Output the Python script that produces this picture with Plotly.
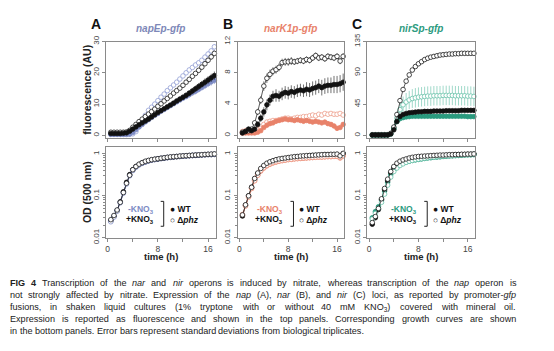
import re
import plotly.graph_objects as go

W, H = 554, 351

# ---------------- data ----------------
T = [0.5, 1.0, 1.5, 2.0, 2.5, 3.0, 3.5, 4.0, 4.5, 5.0, 5.5, 6.0, 6.5, 7.0, 7.5, 8.0, 8.5,
     9.0, 9.5, 10.0, 10.5, 11.0, 11.5, 12.0, 12.5, 13.0, 13.5, 14.0, 14.5, 15.0, 15.5, 16.0, 16.5, 17.0]

# Panel A  napEp-gfp  fluorescence
A_wt_minus = [0.3, 0.3, 0.3, 0.3, 0.3, 0.3, 0.4, 0.9, 1.8, 2.7, 3.5, 4.3, 5.0, 5.7, 6.4, 7.0, 7.7,
              8.3, 8.9, 9.5, 10.1, 10.7, 11.3, 11.9, 12.4, 13.0, 13.6, 14.1, 14.7, 15.3, 15.9, 16.5, 17.1, 17.6]
A_wt_plus = [0.6, 0.6, 0.6, 0.6, 0.7, 0.8, 1.3, 2.0, 2.7, 3.4, 4.0, 4.6, 5.2, 5.9, 6.6, 7.3, 7.9,
             8.5, 9.1, 9.7, 10.3, 11.0, 11.6, 12.2, 12.8, 13.5, 14.2, 14.9, 15.6, 16.3, 17.0, 17.7, 18.4, 19.1]
A_phz_minus = [0.4, 0.4, 0.4, 0.4, 0.4, 0.4, 0.4, 0.5, 1.2, 2.8, 4.6, 6.4, 8.0, 9.0, 10.0, 11.1, 12.2,
               13.2, 14.3, 15.2, 16.1, 17.0, 18.0, 19.0, 20.0, 20.9, 21.7, 22.5, 23.2, 24.0, 25.0, 26.0, 27.0, 28.3]
A_phz_plus = [1.0, 1.0, 1.0, 1.0, 1.0, 1.1, 1.6, 2.6, 3.5, 4.4, 5.2, 6.0, 6.8, 7.6, 8.4, 9.3, 10.1,
              11.0, 11.8, 12.6, 13.5, 14.3, 15.1, 16.0, 17.0, 17.9, 18.9, 19.8, 20.8, 21.8, 22.9, 24.0, 25.1, 26.2]
A_wt_minus_err = [0.1, 0.1, 0.1, 0.1, 0.1, 0.1, 0.1, 0.2, 0.3, 0.3, 0.4, 0.4, 0.4, 0.5, 0.5, 0.5, 0.6,
                  0.6, 0.6, 0.7, 0.7, 0.7, 0.8, 0.8, 0.8, 0.9, 0.9, 1.0, 1.0, 1.0, 1.1, 1.1, 1.2, 1.2]
A_wt_plus_err = [0.1, 0.1, 0.1, 0.1, 0.1, 0.1, 0.2, 0.2, 0.3, 0.3, 0.3, 0.4, 0.4, 0.4, 0.5, 0.5, 0.5,
                 0.6, 0.6, 0.6, 0.7, 0.7, 0.8, 0.8, 0.9, 0.9, 1.0, 1.0, 1.1, 1.1, 1.2, 1.2, 1.3, 1.3]
A_phz_minus_err = [0.1, 0.1, 0.1, 0.1, 0.1, 0.1, 0.1, 0.1, 0.2, 0.2, 0.3, 0.3, 0.3, 0.3, 0.4, 0.4, 0.4,
                   0.4, 0.5, 0.5, 0.5, 0.5, 0.5, 0.6, 0.6, 0.6, 0.6, 0.7, 0.7, 0.7, 0.8, 0.8, 0.8, 0.9]
A_phz_plus_err = [0.1, 0.1, 0.1, 0.1, 0.1, 0.1, 0.1, 0.2, 0.2, 0.2, 0.3, 0.3, 0.3, 0.3, 0.4, 0.4, 0.4,
                  0.4, 0.5, 0.5, 0.5, 0.5, 0.6, 0.6, 0.6, 0.6, 0.7, 0.7, 0.7, 0.8, 0.8, 0.8, 0.9, 0.9]

# Panel B  narK1p-gfp  fluorescence
B_wt_minus = [0.3, 0.3, 0.3, 0.3, 0.3, 0.4, 0.6, 1.0, 1.3, 1.5, 1.6, 1.8, 1.9, 2.0, 2.1, 2.0, 2.0,
              1.9, 2.0, 1.9, 1.8, 1.9, 1.8, 1.7, 1.8, 1.7, 1.6, 1.7, 1.5, 1.4, 1.2, 0.9, 1.0, 1.4]
B_wt_plus = [0.3, 0.5, 0.8, 0.6, 0.8, 1.4, 2.2, 3.0, 3.9, 4.5, 5.0, 5.1, 5.0, 5.3, 5.5, 5.4, 5.6,
             5.5, 5.7, 5.8, 5.7, 5.9, 5.8, 6.0, 6.1, 6.3, 6.1, 6.3, 6.4, 6.4, 6.5, 6.5, 6.6, 6.8]
B_phz_minus = [0.5, 0.6, 0.5, 0.6, 0.6, 0.7, 0.9, 1.4, 1.7, 1.8, 1.9, 1.9, 2.0, 2.1, 2.2, 2.2, 2.1,
               2.2, 2.3, 2.3, 2.4, 2.4, 2.5, 2.6, 2.5, 2.7, 2.6, 2.8, 2.7, 2.8, 2.7, 2.7, 2.8, 2.6]
B_phz_plus = [0.4, 0.5, 0.6, 0.8, 1.6, 3.0, 4.5, 6.3, 7.3, 7.8, 8.2, 8.4, 8.7, 9.3, 9.4, 9.4, 9.5,
              9.4, 9.5, 9.6, 9.5, 9.7, 9.6, 9.9, 10.2, 9.9, 10.0, 9.8, 10.1, 10.0, 9.9, 10.1, 9.5, 10.1]
B_wt_minus_err = [0.1, 0.1, 0.1, 0.1, 0.1, 0.1, 0.2, 0.2, 0.3, 0.3, 0.3, 0.3, 0.3, 0.3, 0.3, 0.3, 0.3,
                  0.3, 0.3, 0.3, 0.3, 0.3, 0.3, 0.3, 0.3, 0.3, 0.3, 0.3, 0.3, 0.3, 0.3, 0.3, 0.3, 0.3]
B_wt_plus_err = [0.1, 0.2, 0.3, 0.2, 0.3, 0.4, 0.5, 0.6, 0.7, 0.7, 0.7, 0.8, 0.7, 0.8, 0.8, 0.8, 0.8,
                 0.8, 0.8, 0.8, 0.8, 0.9, 0.9, 0.9, 0.9, 0.9, 1.0, 1.0, 1.0, 1.0, 1.1, 1.1, 1.1, 1.1]
B_phz_minus_err = [0.1, 0.1, 0.1, 0.1, 0.1, 0.1, 0.1, 0.2, 0.2, 0.2, 0.2, 0.2, 0.2, 0.2, 0.2, 0.2, 0.2,
                   0.2, 0.2, 0.2, 0.2, 0.2, 0.2, 0.2, 0.2, 0.2, 0.2, 0.2, 0.2, 0.2, 0.2, 0.2, 0.2, 0.2]
B_phz_plus_err = [0.1, 0.1, 0.2, 0.2, 0.3, 0.4, 0.5, 0.6, 0.6, 0.6, 0.5, 0.5, 0.5, 0.5, 0.5, 0.5, 0.5,
                  0.4, 0.4, 0.4, 0.4, 0.4, 0.4, 0.4, 0.4, 0.4, 0.4, 0.4, 0.4, 0.4, 0.4, 0.4, 0.4, 0.4]

# Panel C  nirSp-gfp  fluorescence
C_wt_minus = [0.5, 0.5, 0.5, 0.5, 0.5, 0.6, 2.0, 10.0, 20.0, 24.0, 25.5, 26.5, 27.0, 27.5, 27.5, 27.5, 27.5,
              27.5, 27.5, 27.5, 27.5, 27.5, 27.5, 27.5, 27.5, 27.5, 27.5, 27.5, 27.5, 27.5, 27.5, 27.0, 27.0, 27.0]
C_wt_plus = [0.5, 0.5, 0.5, 0.5, 0.5, 0.6, 2.0, 8.0, 20.0, 27.0, 30.0, 31.5, 32.5, 33.0, 33.5, 34.0, 34.0,
             34.5, 34.5, 34.5, 35.0, 35.0, 35.0, 35.0, 35.5, 35.5, 35.5, 35.5, 35.5, 36.0, 36.0, 36.0, 36.0, 36.0]
C_phz_minus = [0.5, 0.5, 0.5, 0.5, 0.5, 0.6, 2.5, 10.0, 25.0, 37.0, 44.0, 48.0, 51.0, 53.0, 54.0, 55.0, 55.5,
               56.0, 56.5, 56.5, 57.0, 57.0, 57.0, 57.5, 57.5, 57.5, 57.5, 57.0, 57.0, 57.0, 57.0, 56.5, 56.5, 56.0]
C_phz_plus = [1.0, 1.0, 1.0, 1.0, 1.0, 1.0, 3.0, 12.0, 30.0, 50.0, 66.0, 78.0, 87.0, 94.0, 99.0, 103.0, 106.0,
              109.0, 111.0, 112.5, 113.5, 114.5, 115.5, 116.0, 116.5, 117.0, 117.0, 117.5, 117.5, 118.0, 118.0, 118.0, 118.0, 118.0]
C_wt_minus_err = [0.3, 0.3, 0.3, 0.3, 0.3, 0.3, 1.0, 2.0, 3.0, 3.0, 3.0, 3.0, 3.0, 3.0, 3.0, 3.0, 3.0,
                  3.0, 3.0, 3.0, 3.0, 3.0, 3.0, 3.0, 3.0, 3.0, 3.0, 3.0, 3.0, 3.0, 3.0, 3.0, 3.0, 3.0]
C_wt_plus_err = [0.3, 0.3, 0.3, 0.3, 0.3, 0.3, 1.0, 1.5, 2.0, 2.0, 2.0, 2.0, 2.0, 2.0, 2.0, 2.0, 2.0,
                 2.0, 2.0, 2.0, 2.0, 2.0, 2.0, 2.0, 2.0, 2.0, 2.0, 2.0, 2.0, 2.0, 2.0, 2.0, 2.0, 2.0]
C_phz_minus_err = [0.3, 0.3, 0.3, 0.3, 0.3, 0.3, 2.0, 5.0, 9.0, 11.0, 12.0, 13.0, 13.0, 13.5, 14.0, 14.0, 14.0,
                   14.0, 14.0, 14.0, 14.0, 14.0, 14.0, 14.0, 14.0, 14.0, 14.0, 14.0, 14.0, 14.0, 14.0, 14.0, 14.0, 14.0]
C_phz_plus_err = [0.3, 0.3, 0.3, 0.3, 0.3, 0.3, 1.0, 2.0, 3.0, 3.0, 3.0, 3.0, 3.0, 3.0, 3.0, 3.0, 3.0,
                  3.0, 3.0, 3.0, 3.0, 3.0, 3.0, 3.0, 3.0, 3.0, 3.0, 3.0, 3.0, 3.0, 3.0, 3.0, 3.0, 3.0]

# OD (500 nm) growth curves
A_od_wt_minus = [0.026, 0.033, 0.045, 0.07, 0.12, 0.2, 0.31, 0.41, 0.49, 0.55, 0.6, 0.64, 0.68, 0.71, 0.73, 0.75, 0.77,
                 0.79, 0.81, 0.83, 0.84, 0.86, 0.87, 0.88, 0.89, 0.9, 0.91, 0.92, 0.93, 0.94, 0.95, 0.96, 0.96, 0.97]
A_od_wt_plus = [0.025, 0.032, 0.044, 0.072, 0.125, 0.21, 0.32, 0.42, 0.5, 0.56, 0.61, 0.65, 0.69, 0.72, 0.74, 0.76, 0.78,
                0.8, 0.82, 0.83, 0.85, 0.86, 0.87, 0.89, 0.9, 0.91, 0.92, 0.93, 0.94, 0.95, 0.96, 0.97, 0.97, 0.98]
A_od_phz_minus = [0.024, 0.031, 0.043, 0.068, 0.115, 0.19, 0.3, 0.4, 0.48, 0.55, 0.6, 0.65, 0.69, 0.72, 0.74, 0.77, 0.79,
                  0.81, 0.83, 0.84, 0.86, 0.87, 0.88, 0.9, 0.91, 0.92, 0.93, 0.94, 0.95, 0.96, 0.97, 0.98, 0.98, 0.99]
A_od_phz_plus = [0.027, 0.034, 0.046, 0.07, 0.12, 0.2, 0.31, 0.42, 0.5, 0.57, 0.62, 0.67, 0.7, 0.73, 0.75, 0.77, 0.79,
                 0.81, 0.83, 0.85, 0.86, 0.87, 0.89, 0.9, 0.91, 0.92, 0.93, 0.94, 0.95, 0.96, 0.97, 0.98, 0.99, 1.0]

B_od_wt_minus = [0.034, 0.058, 0.095, 0.15, 0.23, 0.31, 0.39, 0.46, 0.52, 0.57, 0.61, 0.64, 0.67, 0.69, 0.71, 0.73, 0.74,
                 0.76, 0.77, 0.78, 0.79, 0.8, 0.81, 0.82, 0.83, 0.84, 0.84, 0.85, 0.86, 0.86, 0.87, 0.87, 0.8, 0.9]
B_od_wt_plus = [0.033, 0.06, 0.1, 0.16, 0.25, 0.34, 0.43, 0.51, 0.57, 0.62, 0.66, 0.7, 0.73, 0.75, 0.77, 0.79, 0.81,
                0.83, 0.84, 0.86, 0.87, 0.88, 0.9, 0.91, 0.92, 0.93, 0.94, 0.95, 0.95, 0.96, 0.96, 0.97, 0.88, 1.02]
B_od_phz_minus = [0.036, 0.057, 0.093, 0.15, 0.23, 0.31, 0.4, 0.47, 0.53, 0.58, 0.62, 0.65, 0.68, 0.7, 0.72, 0.74, 0.75,
                  0.77, 0.78, 0.79, 0.8, 0.81, 0.82, 0.83, 0.84, 0.85, 0.85, 0.86, 0.87, 0.87, 0.88, 0.88, 0.82, 0.91]
B_od_phz_plus = [0.035, 0.061, 0.1, 0.16, 0.26, 0.35, 0.45, 0.53, 0.6, 0.65, 0.69, 0.73, 0.76, 0.78, 0.8, 0.82, 0.84,
                 0.86, 0.87, 0.89, 0.9, 0.91, 0.92, 0.93, 0.94, 0.95, 0.96, 0.97, 0.97, 0.98, 0.98, 0.99, 0.9, 1.03]

C_od_wt_minus = [0.03, 0.042, 0.055, 0.08, 0.13, 0.21, 0.32, 0.42, 0.49, 0.55, 0.6, 0.64, 0.67, 0.7, 0.72, 0.74, 0.76,
                 0.78, 0.8, 0.81, 0.83, 0.84, 0.85, 0.87, 0.88, 0.89, 0.9, 0.91, 0.92, 0.93, 0.94, 0.95, 0.95, 0.96]
C_od_wt_plus = [0.021, 0.03, 0.047, 0.08, 0.14, 0.23, 0.36, 0.47, 0.55, 0.61, 0.66, 0.7, 0.73, 0.76, 0.78, 0.8, 0.82,
                0.84, 0.85, 0.87, 0.88, 0.89, 0.9, 0.91, 0.92, 0.93, 0.94, 0.95, 0.96, 0.96, 0.97, 0.98, 0.98, 0.99]
C_od_phz_minus = [0.028, 0.038, 0.05, 0.07, 0.11, 0.18, 0.28, 0.38, 0.46, 0.53, 0.58, 0.63, 0.67, 0.7, 0.73, 0.75, 0.77,
                  0.79, 0.81, 0.83, 0.84, 0.86, 0.87, 0.88, 0.89, 0.9, 0.91, 0.92, 0.93, 0.94, 0.95, 0.96, 0.97, 0.98]
C_od_phz_plus = [0.023, 0.032, 0.05, 0.085, 0.15, 0.25, 0.38, 0.5, 0.6, 0.67, 0.72, 0.76, 0.8, 0.83, 0.85, 0.87, 0.88,
                 0.89, 0.9, 0.91, 0.92, 0.93, 0.94, 0.94, 0.95, 0.96, 0.96, 0.97, 0.97, 0.98, 0.98, 0.99, 0.99, 1.0]

PANEL_LETTERS = ["A", "B", "C"]
PANEL_TITLES = ["napEp-gfp", "narK1p-gfp", "nirSp-gfp"]
FLUOR_TICKS = [[0, 10, 20, 30], [0, 4, 8, 12], [0, 45, 90, 135]]
FLUOR_RANGES = [[-0.9, 30], [-0.36, 12], [-4.0, 135]]
TIME_TICKS = [0, 8, 16]
TIME_MINOR = [4, 12]
OD_TICKS = [0.01, 0.1, 1]
OD_LABELS = ["0.01", "0.1", "1"]
OD_MINOR = [0.02, 0.03, 0.04, 0.05, 0.06, 0.07, 0.08, 0.09, 0.2, 0.3, 0.4, 0.5, 0.6, 0.7, 0.8, 0.9]

CAPTION = [
    "<b>FIG</b> <b>4</b> Transcription of the <i>nar</i> and <i>nir</i> operons is induced by nitrate, whereas transcription of the <i>nap</i> operon is",
    "not strongly affected by nitrate. Expression of the <i>nap</i> (A), <i>nar</i> (B), and <i>nir</i> (C) loci, as reported by promoter-<i>gfp</i>",
    "fusions, in shaken liquid cultures (1% tryptone with or without 40 mM KNO<sub>3</sub>) covered with mineral oil.",
    "Expression is reported as fluorescence and shown in the top panels. Corresponding growth curves are shown",
    "in the bottom panels. Error bars represent standard deviations from biological triplicates.",
]
CAPTION_JUSTIFY = [True, True, True, True, False]

# ---------------- styling ----------------
COLORS = ["#7d8bc4", "#e8826a", "#2a9a7e"]
OPEN_COLORS = ["#8c9ad2", "#ec9a85", "#62bfa6"]
TITLE_COLORS = ["#7e88b8", "#e8826a", "#2e9b80"]
BLACK = "#111111"
AXC = "#8a8a8a"
FONT = "Liberation Sans, Arial, sans-serif"
CAP_FS = 9.1

# Arial / Liberation Sans advance widths (1/1000 em), used to justify the caption
ARIAL_W = {
    ' ': 278, '!': 278, '"': 355, '#': 556, '$': 556, '%': 889, '&': 667, "'": 191, '(': 333, ')': 333,
    '*': 389, '+': 584, ',': 278, '-': 333, '.': 278, '/': 278, ':': 278, ';': 278, '?': 556,
    '0': 556, '1': 556, '2': 556, '3': 556, '4': 556, '5': 556, '6': 556, '7': 556, '8': 556, '9': 556,
    'A': 667, 'B': 667, 'C': 722, 'D': 722, 'E': 667, 'F': 611, 'G': 778, 'H': 722, 'I': 278, 'J': 500,
    'K': 667, 'L': 556, 'M': 833, 'N': 722, 'O': 778, 'P': 667, 'Q': 778, 'R': 722, 'S': 667, 'T': 611,
    'U': 722, 'V': 667, 'W': 944, 'X': 667, 'Y': 667, 'Z': 611,
    'a': 556, 'b': 556, 'c': 500, 'd': 556, 'e': 556, 'f': 278, 'g': 556, 'h': 556, 'i': 222, 'j': 222,
    'k': 500, 'l': 222, 'm': 833, 'n': 556, 'o': 556, 'p': 556, 'q': 556, 'r': 333, 's': 500, 't': 278,
    'u': 556, 'v': 500, 'w': 722, 'x': 500, 'y': 500, 'z': 500,
}


def word_width(word_html, fs):
    total, scale = 0.0, 1.0
    for tok in re.split(r'(<[^>]+>)', word_html):
        if tok.startswith('<'):
            if tok == '<sub>':
                scale = 0.7
            elif tok == '</sub>':
                scale = 1.0
            continue
        for ch in tok:
            total += ARIAL_W.get(ch, 556) * scale
    return total * fs / 1000.0


fluor = [
    (A_wt_minus, A_wt_plus, A_phz_minus, A_phz_plus, A_wt_minus_err, A_wt_plus_err, A_phz_minus_err, A_phz_plus_err),
    (B_wt_minus, B_wt_plus, B_phz_minus, B_phz_plus, B_wt_minus_err, B_wt_plus_err, B_phz_minus_err, B_phz_plus_err),
    (C_wt_minus, C_wt_plus, C_phz_minus, C_phz_plus, C_wt_minus_err, C_wt_plus_err, C_phz_minus_err, C_phz_plus_err),
]
ods = [
    (A_od_wt_minus, A_od_wt_plus, A_od_phz_minus, A_od_phz_plus),
    (B_od_wt_minus, B_od_wt_plus, B_od_phz_minus, B_od_phz_plus),
    (C_od_wt_minus, C_od_wt_plus, C_od_phz_minus, C_od_phz_plus),
]

# layout geometry in pixels
X_LEFT = [105, 237, 367]
X_RIGHT = [215, 344, 475]
TOP_Y = (35, 136)
BOT_Y = (145, 240)
LEG_BRACKET_X = [163, 293, 427]
CAP_LEFT, CAP_RIGHT = 9, 516
CAP_TOP = [282, 294.5, 307, 319.5, 332]


def fx(px):
    return px / W


def fy(py):
    return 1 - py / H


fig = go.Figure()


def series(fig, x, y, err, color, filled, xa, ya, lw=0.7):
    fig.add_trace(go.Scatter(
        x=x, y=y, mode="lines+markers", xaxis=xa, yaxis=ya, showlegend=False,
        line=dict(color=color, width=lw),
        marker=dict(size=4.6, symbol="circle",
                    color=color if filled else "white",
                    line=dict(color=color, width=0.75)),
        error_y=(dict(type="data", array=err, visible=True, thickness=0.6, width=0, color=color)
                 if err is not None else None),
        cliponaxis=False,
    ))


layout = dict(
    width=W, height=H, margin=dict(l=0, r=0, t=0, b=0),
    paper_bgcolor="white", plot_bgcolor="white",
    font=dict(family=FONT, size=8, color="#333"),
    showlegend=False,
)

axis_common = dict(showline=True, mirror=True, linecolor=AXC, linewidth=1, ticks="outside",
                   ticklen=3, tickcolor=AXC, showgrid=False, zeroline=False,
                   tickfont=dict(family=FONT, size=8, color="#444"))

annotations = []
shapes = []

for i in range(3):
    top_idx = i + 1
    bot_idx = i + 4
    xt, yt = f"x{top_idx}", f"y{top_idx}"
    xb, yb = f"x{bot_idx}", f"y{bot_idx}"
    xdom = [fx(X_LEFT[i]), fx(X_RIGHT[i])]

    layout[f"xaxis{top_idx}"] = dict(axis_common, domain=xdom, anchor=yt, range=[-0.3, 17.2],
                                     tickvals=TIME_TICKS, showticklabels=False,
                                     minor=dict(tickvals=TIME_MINOR, ticks="outside", ticklen=3, tickcolor=AXC))
    layout[f"yaxis{top_idx}"] = dict(axis_common, domain=[fy(TOP_Y[1]), fy(TOP_Y[0])], anchor=xt,
                                     range=FLUOR_RANGES[i], tickvals=FLUOR_TICKS[i], tickangle=-90)
    layout[f"xaxis{bot_idx}"] = dict(axis_common, domain=xdom, anchor=yb, range=[-0.3, 17.2],
                                     tickvals=TIME_TICKS,
                                     minor=dict(tickvals=TIME_MINOR, ticks="outside", ticklen=3, tickcolor=AXC),
                                     tickfont=dict(family=FONT, size=8.5, color="#444"))
    layout[f"yaxis{bot_idx}"] = dict(axis_common, domain=[fy(BOT_Y[1]), fy(BOT_Y[0])], anchor=xb,
                                     type="log", range=[-2.0, 0.17], tickvals=OD_TICKS, ticktext=OD_LABELS,
                                     tickangle=-90,
                                     minor=dict(tickvals=OD_MINOR, ticks="outside", ticklen=2, tickcolor=AXC))

    wt_m, wt_p, phz_m, phz_p, e_wm, e_wp, e_pm, e_pp = fluor[i]
    series(fig, T, phz_m, e_pm, OPEN_COLORS[i], False, xt, yt)
    series(fig, T, wt_m, e_wm, COLORS[i], True, xt, yt)
    series(fig, T, phz_p, e_pp, BLACK, False, xt, yt)
    series(fig, T, wt_p, e_wp, BLACK, True, xt, yt)

    od_wm, od_wp, od_pm, od_pp = ods[i]
    series(fig, T, od_wm, None, COLORS[i], True, xb, yb)
    series(fig, T, od_wp, None, BLACK, True, xb, yb)
    series(fig, T, od_pm, None, OPEN_COLORS[i], False, xb, yb)
    series(fig, T, od_pp, None, BLACK, False, xb, yb)

    # panel letter
    annotations.append(dict(text=f"<b>{PANEL_LETTERS[i]}</b>", x=fx(X_LEFT[i] - 17), y=fy(17),
                            xref="paper", yref="paper", showarrow=False, xanchor="left", yanchor="middle",
                            font=dict(family=FONT, size=14, color="#111")))
    # title
    annotations.append(dict(text=f"<b><i>{PANEL_TITLES[i]}</i></b>", x=fx((X_LEFT[i] + X_RIGHT[i]) / 2),
                            y=fy(21), xref="paper", yref="paper", showarrow=False,
                            xanchor="center", yanchor="middle",
                            font=dict(family=FONT, size=10, color=TITLE_COLORS[i])))
    # time label
    annotations.append(dict(text="<b>time (h)</b>", x=fx((X_LEFT[i] + X_RIGHT[i]) / 2), y=fy(260),
                            xref="paper", yref="paper", showarrow=False, xanchor="center", yanchor="middle",
                            font=dict(family=FONT, size=9.5, color="#222")))
    # legend
    bx = LEG_BRACKET_X[i]
    annotations.append(dict(text="<b>-KNO<sub>3</sub></b>", x=fx(bx - 8), y=fy(210), xref="paper", yref="paper",
                            showarrow=False, xanchor="right", yanchor="middle",
                            font=dict(family=FONT, size=8.5, color=COLORS[i])))
    annotations.append(dict(text="<b>+KNO<sub>3</sub></b>", x=fx(bx - 8), y=fy(221), xref="paper", yref="paper",
                            showarrow=False, xanchor="right", yanchor="middle",
                            font=dict(family=FONT, size=8.5, color="#111")))
    annotations.append(dict(text="<b>● WT</b>", x=fx(bx + 4), y=fy(210), xref="paper", yref="paper",
                            showarrow=False, xanchor="left", yanchor="middle",
                            font=dict(family=FONT, size=8.5, color="#111")))
    annotations.append(dict(text="<b>○ Δ<i>phz</i></b>", x=fx(bx + 4), y=fy(221), xref="paper", yref="paper",
                            showarrow=False, xanchor="left", yanchor="middle",
                            font=dict(family=FONT, size=8.5, color="#111")))
    shapes.append(dict(type="path", xref="paper", yref="paper",
                       path=f"M {fx(bx-3)} {fy(202)} L {fx(bx)} {fy(202)} L {fx(bx)} {fy(228)} L {fx(bx-3)} {fy(228)}",
                       line=dict(color="#222", width=1)))

# axis titles
annotations.append(dict(text="<b>fluorescence (AU)</b>", x=fx(86), y=fy((TOP_Y[0] + TOP_Y[1]) / 2),
                        xref="paper", yref="paper", showarrow=False, textangle=-90,
                        xanchor="center", yanchor="middle", font=dict(family=FONT, size=10.5, color="#222")))
annotations.append(dict(text="<b>OD (500 nm)</b>", x=fx(86), y=fy((BOT_Y[0] + BOT_Y[1]) / 2),
                        xref="paper", yref="paper", showarrow=False, textangle=-90,
                        xanchor="center", yanchor="middle", font=dict(family=FONT, size=10.5, color="#222")))

# caption: one text per word so that lines 1-4 can be fully justified like the original
for line, justify, ptop in zip(CAPTION, CAPTION_JUSTIFY, CAP_TOP):
    words = line.split(" ")
    widths = [word_width(w, CAP_FS) for w in words]
    if justify and len(words) > 1:
        gap = (CAP_RIGHT - CAP_LEFT - sum(widths)) / (len(words) - 1)
    else:
        gap = ARIAL_W[' '] * CAP_FS / 1000.0
    xpos = CAP_LEFT
    for w, wd in zip(words, widths):
        annotations.append(dict(text=w, x=fx(xpos), y=fy(ptop), xref="paper", yref="paper", showarrow=False,
                                xanchor="left", yanchor="top", align="left", borderpad=0, borderwidth=0,
                                font=dict(family=FONT, size=CAP_FS, color="#222")))
        xpos += wd + gap

layout["annotations"] = annotations
layout["shapes"] = shapes
fig.update_layout(**layout)
fig.write_html("out.html")
